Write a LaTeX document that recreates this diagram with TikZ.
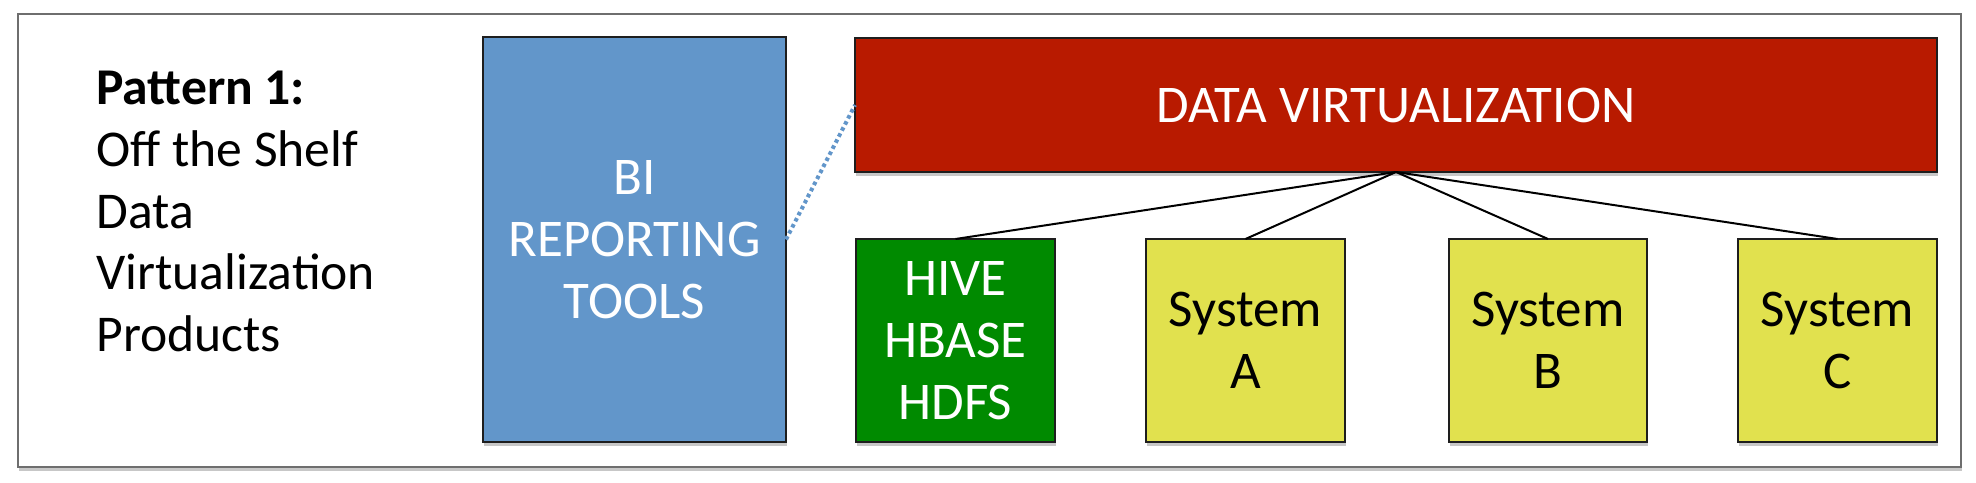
\documentclass[tikz,border=0pt]{standalone}
\usepackage{fontspec}
\setmainfont{Carlito}
\usetikzlibrary{shadows}
\definecolor{biblue}{HTML}{6296CA}
\definecolor{dvred}{HTML}{B81A00}
\definecolor{hgreen}{HTML}{008A00}
\definecolor{sysyellow}{HTML}{E1E14E}
\definecolor{framegray}{HTML}{6E6E6E}
\definecolor{edgedark}{HTML}{1E1E1E}
\tikzset{
  boxshadow/.style={drop shadow={shadow xshift=0.6pt, shadow yshift=-1.8pt, opacity=0.22, fill=black}},
  block/.style={draw=edgedark, line width=1.1pt, inner sep=0pt, outer sep=0pt, align=center,
    font=\fontsize{26.5}{31}\selectfont, boxshadow},
  whitetext/.style={text=white},
  link/.style={draw=black, line width=1pt},
  dotlink/.style={draw=biblue, line width=2pt, dash pattern=on 1.8pt off 1.6pt},
}
\begin{document}
\begin{tikzpicture}[x=0.5pt,y=-0.5pt]
\useasboundingbox (0,0) rectangle (1976,482);
\fill[white] (0,0) rectangle (1976,482);
% outer frame
\node[draw=framegray, line width=1.3pt, fill=white, minimum width=971.5pt, minimum height=226.5pt,
  inner sep=0pt, outer sep=0pt, boxshadow] (frame) at (989.5,240.5) {};
% caption
\node[anchor=north west, align=left, inner sep=0pt, font=\fontsize{25.8}{30.8}\selectfont] (caption)
  at (96,71) {\textbf{Pattern 1:}\\Off the Shelf\\Data\\Virtualization\\Products};
% boxes
\node[block, whitetext, fill=biblue, minimum width=151.5pt, minimum height=202.5pt] (bi)
  at (634.5,239.5) {BI\\REPORTING\\TOOLS};
\node[block, whitetext, fill=dvred, minimum width=541pt, minimum height=67pt] (dv)
  at (1396,105) {DATA VIRTUALIZATION};
\node[block, whitetext, fill=hgreen, minimum width=99.5pt, minimum height=101.5pt] (hive)
  at (955.5,340.5) {HIVE\\HBASE\\HDFS};
\node[block, fill=sysyellow, minimum width=99.5pt, minimum height=101.5pt] (sysa)
  at (1245.5,340.5) {System\\A};
\node[block, fill=sysyellow, minimum width=99pt, minimum height=101.5pt] (sysb)
  at (1548,340.5) {System\\B};
\node[block, fill=sysyellow, minimum width=99.5pt, minimum height=101.5pt] (sysc)
  at (1837.5,340.5) {System\\C};
% connectors
\draw[link] (dv.south) -- (hive.north);
\draw[link] (dv.south) -- (sysa.north);
\draw[link] (dv.south) -- (sysb.north);
\draw[link] (dv.south) -- (sysc.north);
\draw[dotlink] (bi.east) -- (dv.west);
\end{tikzpicture}
\end{document}
